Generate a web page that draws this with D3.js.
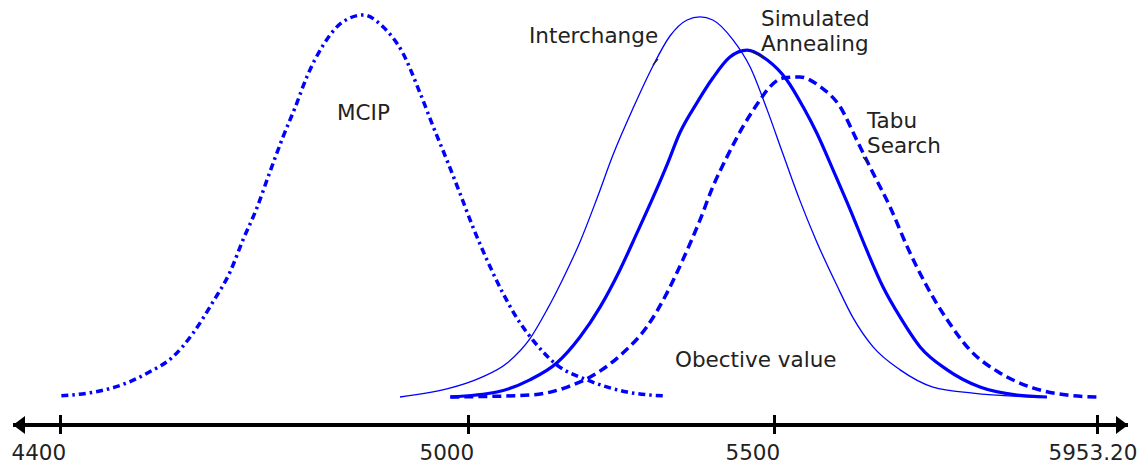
<!DOCTYPE html>
<meta charset="utf-8" />
<script src="https://d3js.org/d3.v7.js"></script>
<style>
  body { margin: 0; background: #fff; }
  text { font-family: "DejaVu Sans", sans-serif; fill: #222; }
</style>
<div id="chart"></div>
<script>
  // tick values along the objective value axis
  const tickValues = [4400, 5000, 5500, 5953.2];
  const tickLabels = ["4400", "5000", "5500", "5953.20"];

  // relative frequency (peak of MCIP = 100)
  const mcipX = [4402, 4444, 4483, 4532, 4566, 4596, 4625, 4650, 4669, 4690, 4706, 4728, 4746, 4763, 4787, 4816, 4846, 4875, 4904, 4929, 4949, 4969, 4988, 5008, 5031, 5057, 5085, 5106, 5145, 5194, 5260, 5319];
  const mcipY = [0.3, 1.1, 2.7, 6.6, 10.5, 16.8, 24.9, 32.7, 41.1, 49.7, 57.6, 68.1, 75.9, 83.8, 92.1, 98.2, 100, 96.9, 90.1, 79.8, 70.7, 62.0, 53.4, 44.5, 35.9, 27.2, 19.4, 14.9, 8.4, 4.5, 1.3, 0.3];

  const interX = [4900, 4969, 5020, 5064, 5101, 5129, 5155, 5183, 5211, 5237, 5270, 5302, 5330, 5358, 5379, 5400, 5433, 5461, 5489, 5513, 5536, 5560, 5588, 5611, 5639, 5677, 5723, 5779, 5863];
  const interY = [0, 2.1, 5.0, 8.9, 15.2, 22.8, 30.9, 40.6, 52.1, 63.4, 75.7, 86.6, 94.5, 98.7, 99.5, 98.7, 93.5, 86.4, 75.1, 63.4, 51.6, 40.6, 29.3, 20.7, 13.1, 7.1, 2.6, 1.0, 0];

  const saX = [4974, 5047, 5101, 5145, 5183, 5216, 5248, 5276, 5302, 5325, 5346, 5374, 5400, 5428, 5456, 5489, 5518, 5541, 5560, 5583, 5607, 5630, 5653, 5677, 5705, 5743, 5789, 5841, 5883];
  const saY = [0, 1.3, 4.5, 8.9, 15.7, 23.6, 33.2, 42.9, 52.1, 60.7, 69.1, 77.0, 83.5, 89.0, 90.8, 88.2, 83.0, 75.9, 69.1, 59.4, 49.0, 38.5, 28.8, 20.9, 13.1, 7.1, 2.6, 0.5, 0];

  const tabuX = [4974, 5101, 5162, 5211, 5253, 5292, 5325, 5351, 5379, 5400, 5423, 5449, 5477, 5489, 5513, 5536, 5565, 5593, 5616, 5639, 5663, 5687, 5715, 5743, 5775, 5817, 5863, 5911, 5953];
  const tabuY = [0, 0.5, 2.6, 6.3, 11.5, 18.3, 27.2, 35.9, 46.3, 55.0, 62.8, 70.7, 77.7, 80.4, 83.5, 83.8, 81.2, 75.9, 67.3, 58.6, 49.7, 39.3, 28.8, 20.2, 12.3, 6.3, 2.4, 0.5, 0];

  const seriesNames = ["MCIP", "Interchange", "Simulated Annealing", "Tabu Search"];

  const width = 1145,
    height = 464;

  const svg = d3
    .select("#chart")
    .append("svg")
    .attr("width", width)
    .attr("height", height);

  // axis ticks are not evenly spaced in the original, so piecewise scale
  const x = d3.scaleLinear().domain(tickValues).range([60, 468, 774, 1097]);
  const y = d3.scaleLinear().domain([0, 100]).range([397, 15]);

  const series = [
    { name: seriesNames[0], xs: mcipX, ys: mcipY, w: 3.5, dash: "7,4,2.5,4" },
    { name: seriesNames[1], xs: interX, ys: interY, w: 1.3, dash: null },
    { name: seriesNames[2], xs: saX, ys: saY, w: 3.2, dash: null },
    { name: seriesNames[3], xs: tabuX, ys: tabuY, w: 3.5, dash: "9,5" }
  ];

  const line = d3
    .line()
    .x((d) => x(d[0]))
    .y((d) => y(d[1]))
    .curve(d3.curveMonotoneX);

  svg
    .append("g")
    .selectAll("path")
    .data(series)
    .join("path")
    .attr("fill", "none")
    .attr("stroke", "#0000ff")
    .attr("stroke-width", (d) => d.w)
    .attr("stroke-dasharray", (d) => d.dash)
    .attr("d", (d) => line(d.xs.map((v, i) => [v, d.ys[i]])));

  // x axis with arrows on both ends
  const axisY = 425;
  const defs = svg.append("defs");
  defs
    .append("marker")
    .attr("id", "arrow")
    .attr("viewBox", "0 0 12 18")
    .attr("refX", 12)
    .attr("refY", 9)
    .attr("markerWidth", 12)
    .attr("markerHeight", 18)
    .attr("markerUnits", "userSpaceOnUse")
    .attr("orient", "auto-start-reverse")
    .append("path")
    .attr("d", "M0,0L12,9L0,18z")
    .attr("fill", "#000");

  svg
    .append("line")
    .attr("x1", 13)
    .attr("x2", 1128)
    .attr("y1", axisY)
    .attr("y2", axisY)
    .attr("stroke", "#000")
    .attr("stroke-width", 4)
    .attr("marker-start", "url(#arrow)")
    .attr("marker-end", "url(#arrow)");

  const axis = svg
    .append("g")
    .attr("transform", `translate(0,${axisY})`)
    .call(
      d3
        .axisBottom(x)
        .tickValues(tickValues)
        .tickFormat((d, i) => tickLabels[i])
        .tickSizeOuter(0)
    );
  axis.select(".domain").remove();
  axis
    .selectAll(".tick line")
    .attr("y1", -10)
    .attr("y2", 9)
    .attr("stroke", "#000")
    .attr("stroke-width", 3);
  axis
    .selectAll(".tick text")
    .attr("x", -49)
    .attr("y", 35)
    .attr("dy", 0)
    .attr("text-anchor", "start")
    .style("font-size", "21.5px")
    .style("font-family", "DejaVu Sans")
    .attr("fill", "#222");

  // curve labels
  const labels = [
    { lines: ["MCIP"], x: 337, y: 120 },
    { lines: ["Interchange"], x: 529, y: 43 },
    { lines: ["Simulated", "Annealing"], x: 761, y: 26 },
    { lines: ["Tabu", "Search"], x: 867, y: 128 },
    { lines: ["Obective value"], x: 675, y: 367 }
  ];
  labels.forEach(function (l) {
    const t = svg
      .append("text")
      .attr("x", l.x)
      .attr("y", l.y)
      .style("font-size", "21.5px");
    l.lines.forEach(function (s, i) {
      t.append("tspan")
        .attr("x", l.x)
        .attr("dy", i === 0 ? 0 : 25)
        .text(s);
    });
  });

  // little leader marks next to the labels
  const leaders = [
    [653, 65, 658, 59],
    [752, 52, 763, 57],
    [863, 157, 868, 163]
  ];
  svg
    .append("g")
    .selectAll("line")
    .data(leaders)
    .join("line")
    .attr("x1", (d) => d[0])
    .attr("y1", (d) => d[1])
    .attr("x2", (d) => d[2])
    .attr("y2", (d) => d[3])
    .attr("stroke", "#222")
    .attr("stroke-width", 1.2);
</script>
